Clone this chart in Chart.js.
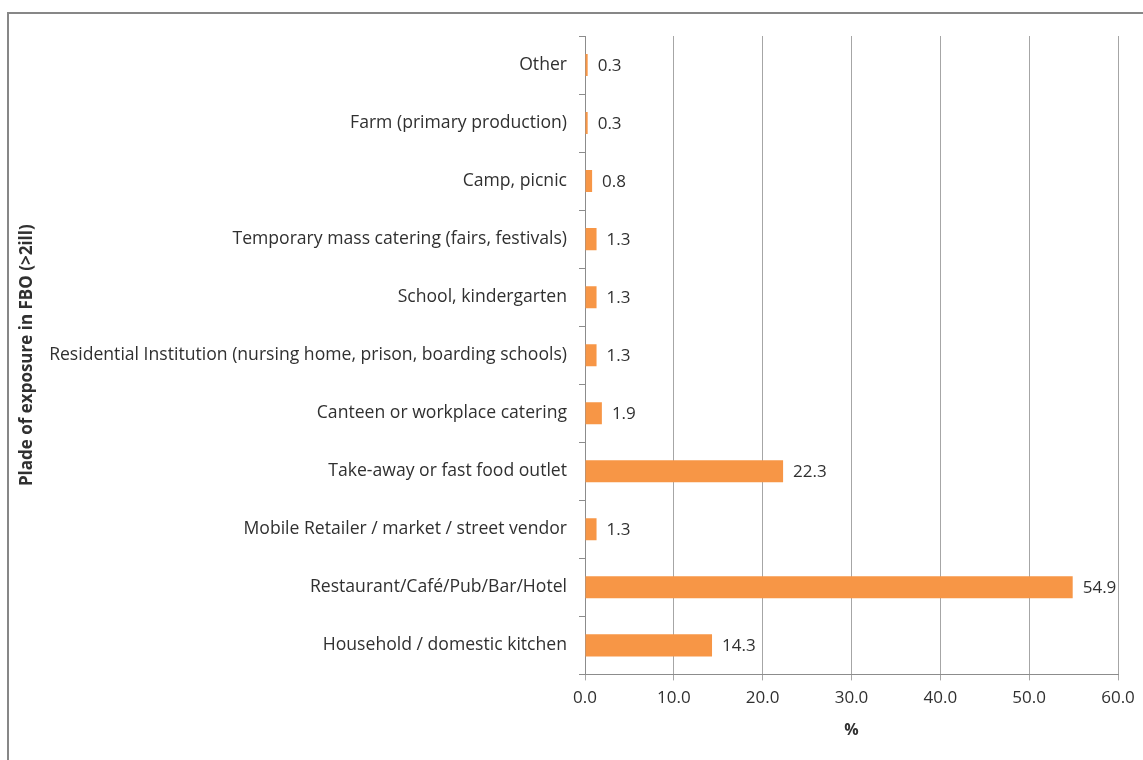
<!DOCTYPE html>
<html>
<head>
<meta charset="utf-8">
<script src="https://cdn.jsdelivr.net/npm/chart.js@4.4.0/dist/chart.umd.min.js"></script>
<style>
  body { margin: 0; background: #fff; }
  #wrap { position: relative; width: 1143px; height: 760px; }
</style>
</head>
<body>
<div id="wrap"><canvas id="myChart" width="1143" height="760"></canvas></div>
<script>
// categories top to bottom, as in the picture
const places = [
    "Other",
    "Farm (primary production)",
    "Camp, picnic",
    "Temporary mass catering (fairs, festivals)",
    "School, kindergarten",
    "Residential Institution (nursing home, prison, boarding schools)",
    "Canteen or workplace catering",
    "Take-away or fast food outlet",
    "Mobile Retailer / market / street vendor",
    "Restaurant/Café/Pub/Bar/Hotel",
    "Household / domestic kitchen"
];
const percents = [0.3, 0.3, 0.8, 1.3, 1.3, 1.3, 1.9, 22.3, 1.3, 54.9, 14.3];
const xTicks = [0, 10, 20, 30, 40, 50, 60];

const fontName = "'Open Sans', 'Liberation Sans', sans-serif";
const textColor = "#303030";

// frame around the chart, like the excel chart area
const framePlugin = {
    id: "frame",
    beforeDraw(chart) {
        const c = chart.ctx;
        c.save();
        c.fillStyle = "#fff";
        c.fillRect(0, 0, chart.width, chart.height);
        c.strokeStyle = "#878787";
        c.lineWidth = 2;
        c.strokeRect(8, 13, chart.width + 20, chart.height + 20);
        c.restore();
    }
};

// value labels at the end of the bars
const valuePlugin = {
    id: "values",
    afterDatasetsDraw(chart) {
        const c = chart.ctx;
        const meta = chart.getDatasetMeta(0);
        c.save();
        c.font = "17px " + fontName;
        c.fillStyle = textColor;
        c.textBaseline = "middle";
        c.textAlign = "left";
        meta.data.forEach((bar, i) => {
            c.fillText(percents[i].toFixed(1), bar.x + 10, bar.y + 1);
        });
        c.restore();
    }
};

const ctx = document.getElementById("myChart").getContext("2d");
new Chart(ctx, {
    type: "bar",
    data: {
        labels: places,
        datasets: [{
            data: percents,
            backgroundColor: "#F79646",
            borderWidth: 0,
            barPercentage: 0.76,
            categoryPercentage: 0.5
        }]
    },
    plugins: [framePlugin, valuePlugin],
    options: {
        indexAxis: "y",
        responsive: false,
        animation: false,
        layout: {
            padding: { left: 14, top: 36, right: 25, bottom: 20 }
        },
        plugins: {
            legend: { display: false },
            tooltip: { enabled: false }
        },
        scales: {
            x: {
                min: 0,
                max: 60,
                afterBuildTicks: (scale) => {
                    scale.ticks = xTicks.map(v => ({ value: v }));
                },
                ticks: {
                    callback: (v) => Number(v).toFixed(1),
                    color: textColor,
                    font: { family: fontName, size: 17 },
                    padding: 8,
                    maxRotation: 0
                },
                grid: {
                    color: "#a6a6a6",
                    lineWidth: 1,
                    tickLength: 6
                },
                border: { color: "#8c8c8c", width: 1 },
                title: {
                    display: true,
                    text: "%",
                    color: textColor,
                    font: { family: fontName, size: 16, weight: "bold" },
                    padding: { top: 4, bottom: 0 }
                }
            },
            y: {
                afterFit: (scale) => { scale.width = 571; },
                ticks: {
                    color: textColor,
                    font: { family: fontName, size: 17.6 },
                    padding: 12,
                    autoSkip: false
                },
                grid: {
                    offset: true,
                    drawOnChartArea: false,
                    color: "#8c8c8c",
                    tickLength: 6
                },
                border: { color: "#8c8c8c", width: 1 },
                title: {
                    display: true,
                    text: "Plade of exposure in FBO (>2ill)",
                    color: textColor,
                    font: { family: fontName, size: 17, weight: "bold" },
                    padding: { top: 3, bottom: 0 }
                }
            }
        }
    }
});
</script>
</body>
</html>
